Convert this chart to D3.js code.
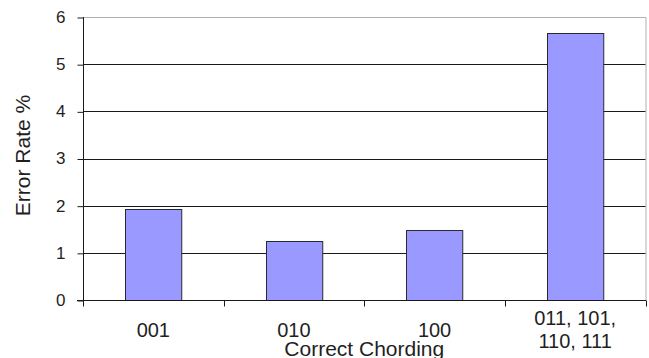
<!DOCTYPE html>
<html>
<head>
<meta charset="utf-8">
<script src="https://cdn.jsdelivr.net/npm/d3@7"></script>
<style>
  html, body { margin: 0; padding: 0; background: #fff; }
  svg { display: block; font-family: "Liberation Sans", Arial, sans-serif; }
</style>
</head>
<body>
<svg id="chart" width="649" height="358"></svg>
<script>
// Error rate by correct chording pattern
const categories = [["001"], ["010"], ["100"], ["011, 101,", "110, 111"]];
const errorRates = [1.93, 1.26, 1.49, 5.67];
const yTicks = [0, 1, 2, 3, 4, 5, 6];
const xTitle = "Correct Chording";
const yTitle = "Error Rate %";

const svg = d3.select("#chart");
const margin = { left: 83, right: 3.5, top: 17, bottom: 58 };
const W = 649, H = 358;
const plotW = W - margin.left - margin.right;
const plotH = H - margin.top - margin.bottom;

const keys = categories.map(c => c.join(" "));
const x = d3.scaleBand().domain(keys).range([0, plotW]).paddingInner(0.6).paddingOuter(0.3);
const xEdges = d3.scaleLinear().domain([0, keys.length]).range([0, plotW]);
const y = d3.scaleLinear().domain([0, 6]).range([plotH, 0]);

const g = svg.append("g").attr("transform", `translate(${margin.left},${margin.top})`);

// plot frame (top and right) in light grey
g.append("path")
  .attr("d", `M0.5,0.5H${plotW + 0.5}V${plotH}`)
  .attr("fill", "none").attr("stroke", "#b0b0b0").attr("stroke-width", 1);

// horizontal gridlines
g.append("g").selectAll("line")
  .data(yTicks.filter(t => t > 0 && t < 6))
  .join("line")
  .attr("x1", 0).attr("x2", plotW)
  .attr("y1", d => Math.round(y(d)) + 0.5).attr("y2", d => Math.round(y(d)) + 0.5)
  .attr("stroke", "#1a1a1a").attr("stroke-width", 1);

// bars
g.append("g").selectAll("rect")
  .data(errorRates)
  .join("rect")
  .attr("x", (d, i) => Math.round(x(keys[i])) + 0.5)
  .attr("y", d => Math.round(y(d)) + 0.5)
  .attr("width", x.bandwidth())
  .attr("height", d => Math.round(y(0)) - Math.round(y(d)))
  .attr("fill", "#9999ff")
  .attr("stroke", "#2a2a2a").attr("stroke-width", 1);

// y axis
const yAxis = g.append("g").attr("transform", "translate(0.5,0)")
  .call(d3.axisLeft(y).tickValues(yTicks).tickSize(6).tickPadding(12).tickFormat(d3.format("d")));
yAxis.select(".domain").attr("d", `M0,0V${plotH + 6}`).attr("stroke", "#1a1a1a");
yAxis.selectAll(".tick line").attr("stroke", "#1a1a1a")
  .attr("transform", "translate(0,0.5)");
yAxis.selectAll(".tick text")
  .attr("font-size", 17).attr("fill", "#1f1f1f")
  .attr("font-family", "Liberation Sans, Arial, sans-serif");

// x axis: line plus category boundary ticks
const xAxis = g.append("g").attr("transform", `translate(0,${Math.round(plotH) + 0.5})`);
xAxis.append("line").attr("x1", -6).attr("x2", plotW + 0.5)
  .attr("stroke", "#1a1a1a");
xAxis.selectAll("line.edge")
  .data(d3.range(keys.length + 1))
  .join("line").attr("class", "edge")
  .attr("x1", d => Math.round(xEdges(d)) + 0.5).attr("x2", d => Math.round(xEdges(d)) + 0.5)
  .attr("y1", 0).attr("y2", 6)
  .attr("stroke", "#1a1a1a");

// category labels (multi-line labels centred on the single-line baseline)
const lineH = 23.5;
xAxis.selectAll("text.cat")
  .data(categories)
  .join("text").attr("class", "cat")
  .attr("x", (d, i) => x(keys[i]) + x.bandwidth() / 2)
  .attr("text-anchor", "middle")
  .attr("font-size", 20).attr("fill", "#1f1f1f")
  .each(function(lines) {
    const t = d3.select(this);
    const base = 36 - (lines.length - 1) * lineH / 2;
    lines.forEach((s, k) => {
      t.append("tspan").attr("x", t.attr("x")).attr("y", base + k * lineH).text(s);
    });
  });

// axis titles
svg.append("text")
  .attr("x", margin.left + plotW / 2).attr("y", 356)
  .attr("text-anchor", "middle")
  .attr("font-size", 21).attr("fill", "#1f1f1f")
  .text(xTitle);

svg.append("text")
  .attr("transform", `translate(29.5,${margin.top + plotH / 2 - 3}) rotate(-90)`)
  .attr("text-anchor", "middle")
  .attr("font-size", 21).attr("fill", "#1f1f1f")
  .text(yTitle);
</script>
</body>
</html>
